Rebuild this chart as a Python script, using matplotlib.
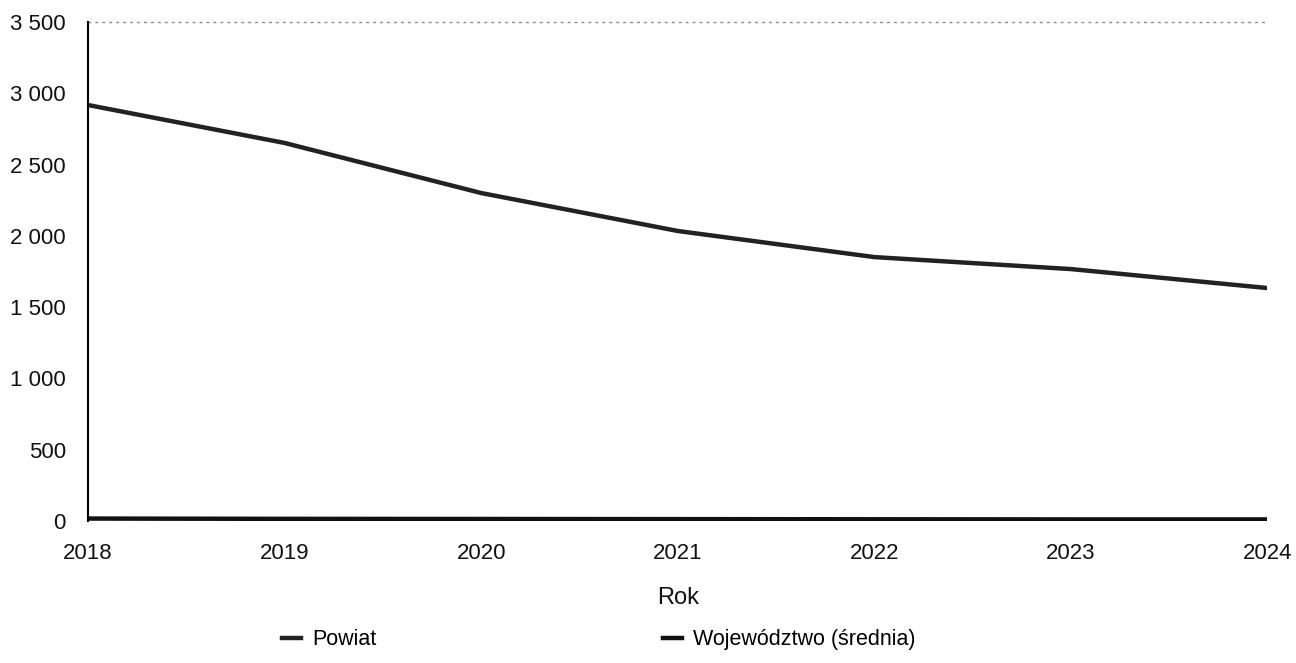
import matplotlib
matplotlib.use("Agg")
from matplotlib import pyplot as plt
from matplotlib.ticker import FuncFormatter

# data
lata = [2018, 2019, 2020, 2021, 2022, 2023, 2024]
powiat = [2917, 2651, 2300, 2034, 1851, 1767, 1634]
wojewodztwo = [18, 16, 15, 14, 13, 12, 12]
y_ticks = [0, 500, 1000, 1500, 2000, 2500, 3000, 3500]

plt.rcParams['font.family'] = ['Liberation Sans', 'DejaVu Sans']

fig = plt.figure(figsize=(12.96, 6.63), dpi=100)
ax = fig.add_axes([0.068, 0.214, 0.91, 0.753])

ax.plot(lata, powiat, color='#222222', lw=3.2, label='Powiat')
ax.plot(lata, wojewodztwo, color='#111111', lw=3.2, label='Województwo (średnia)')

ax.set_xlim(2018, 2024)
ax.set_ylim(0, 3500)
ax.set_xticks(lata)
ax.set_yticks(y_ticks)
ax.yaxis.set_major_formatter(FuncFormatter(lambda v, p: f"{int(v):,}".replace(",", " ")))

# faint dotted top grid line
ax.axhline(3500, color='#888888', lw=1, ls=(0, (2, 3)), clip_on=False)

for s in ['top', 'right', 'bottom']:
    ax.spines[s].set_visible(False)
ax.spines['left'].set_color('black')
ax.spines['left'].set_linewidth(1.5)
ax.tick_params(axis='both', length=0, labelsize=16, colors='#111111')
ax.tick_params(axis='y', pad=16)
ax.tick_params(axis='x', pad=16)

ax.set_xlabel('Rok', fontsize=17, labelpad=16, color='#111111')

fig.legend(loc='center', bbox_to_anchor=(0.462, 0.035), ncol=2, frameon=False,
           fontsize=15.5, handlelength=0.9, handletextpad=0.5, columnspacing=13.3)

fig.savefig('out.png', dpi=100, facecolor='white')
